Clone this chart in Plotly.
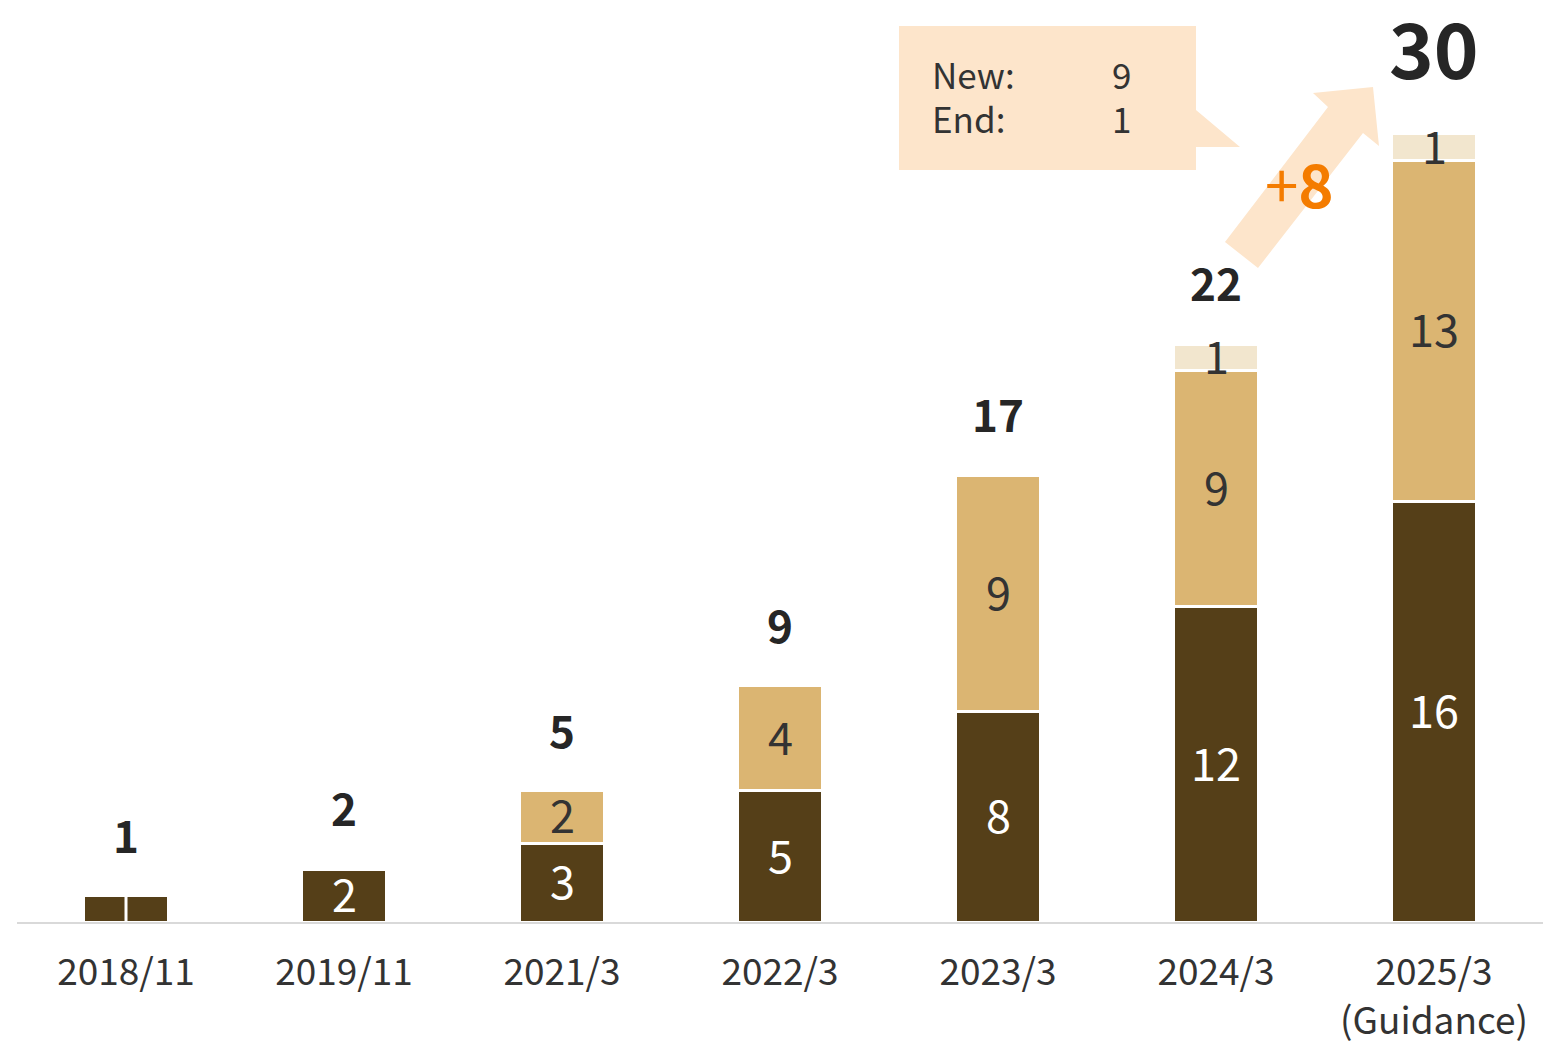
import plotly.graph_objects as go

categories = ["2018/11", "2019/11", "2021/3", "2022/3", "2023/3", "2024/3", "2025/3<br>(Guidance)"]
dark_vals = [1, 2, 3, 5, 8, 12, 16]
tan_vals = [0, 0, 2, 4, 9, 9, 13]
light_vals = [0, 0, 0, 0, 0, 1, 1]
totals = [1, 2, 5, 9, 17, 22, 30]
callout_labels = ["New:", "End:"]
callout_values = [9, 1]
delta_sign = "+"
delta_num = "8"

DARK = "#553F18"
TAN = "#DBB572"
LIGHT = "#F2E6CE"
PEACH = "#FDE5CB"
ORANGE = "#F47C00"
TXT = "#262626"
FONT = "Noto Sans CJK JP"

W, H = 1553, 1041
ML, MR, MT, MB = 17, 10, 0, 119
YMAX = 35.1

fig = go.Figure()
for vals, col in [(dark_vals, DARK), (tan_vals, TAN), (light_vals, LIGHT)]:
    fig.add_trace(go.Bar(x=categories, y=vals, marker=dict(color=col, line=dict(color="white", width=3)),
                         width=0.39, hoverinfo="skip", showlegend=False))

anns = []
base = [0] * len(categories)
for vals, col in [(dark_vals, "white"), (tan_vals, "#333333"), (light_vals, "#333333")]:
    for i, v in enumerate(vals):
        if v > 0 and (v > 1 or vals is light_vals):
            anns.append(dict(x=categories[i], y=base[i] + v / 2, text=str(v), showarrow=False, yshift=3,
                             font=dict(family=FONT, size=45, color=col), yanchor="middle"))
        base[i] += v

for i, t in enumerate(totals):
    last = i == len(totals) - 1
    anns.append(dict(x=categories[i], y=t, text="<b>%d</b>" % t, showarrow=False,
                     yanchor="middle", yshift=88 if last else 62,
                     font=dict(family=FONT, size=76 if last else 44, color=TXT)))

# thin white divider in the first (tiny) bar
shapes = [dict(type="line", xref="x", yref="y", x0=0, x1=0, y0=0, y1=dark_vals[0],
               line=dict(color="white", width=3))]

def px(x):
    return (x - ML) / (W - ML - MR)

def py(y):
    return 1 - (y - MT) / (H - MT - MB)

# callout box with pointer
pts = [(899, 26), (1196, 26), (1196, 110), (1240, 147), (1196, 147), (1196, 170), (899, 170)]
path = "M " + " L ".join("%f,%f" % (px(a), py(b)) for a, b in pts) + " Z"
shapes.append(dict(type="path", xref="paper", yref="paper", path=path, fillcolor=PEACH, line=dict(width=0), layer="above"))

# thick arrow
apts = [(1225, 242), (1328, 107), (1313, 93), (1373, 87), (1379, 146), (1363, 133), (1258, 268)]
apath = "M " + " L ".join("%f,%f" % (px(a), py(b)) for a, b in apts) + " Z"
shapes.append(dict(type="path", xref="paper", yref="paper", path=apath, fillcolor=PEACH, line=dict(width=0), layer="above"))

for k, (lab, val) in enumerate(zip(callout_labels, callout_values)):
    yy = 73 + 45 * k
    anns.append(dict(xref="paper", yref="paper", x=px(930), y=py(yy), text=lab, showarrow=False,
                     xanchor="left", yanchor="middle", font=dict(family=FONT, size=35, color="#333333")))
    anns.append(dict(xref="paper", yref="paper", x=px(1121), y=py(yy), text=str(val), showarrow=False,
                     xanchor="center", yanchor="middle", font=dict(family=FONT, size=35, color="#333333")))

anns.append(dict(xref="paper", yref="paper", x=px(1299), y=py(181),
                 text="%s<b>%s</b>" % (delta_sign, delta_num), showarrow=False,
                 xanchor="center", yanchor="middle", font=dict(family=FONT, size=60, color=ORANGE)))

fig.update_layout(
    barmode="stack", width=W, height=H,
    margin=dict(l=ML, r=MR, t=MT, b=MB),
    plot_bgcolor="white", paper_bgcolor="white",
    annotations=anns, shapes=shapes,
    xaxis=dict(showline=True, linecolor="#D9D9D9", linewidth=2, showgrid=False, automargin=False,
               tickfont=dict(family=FONT, size=37, color="#333333"),
               ticks="outside", tickcolor="rgba(0,0,0,0)", ticklen=17, fixedrange=True),
    yaxis=dict(range=[0, YMAX], visible=False, showgrid=False, fixedrange=True),
)
fig.write_html("out.html")
